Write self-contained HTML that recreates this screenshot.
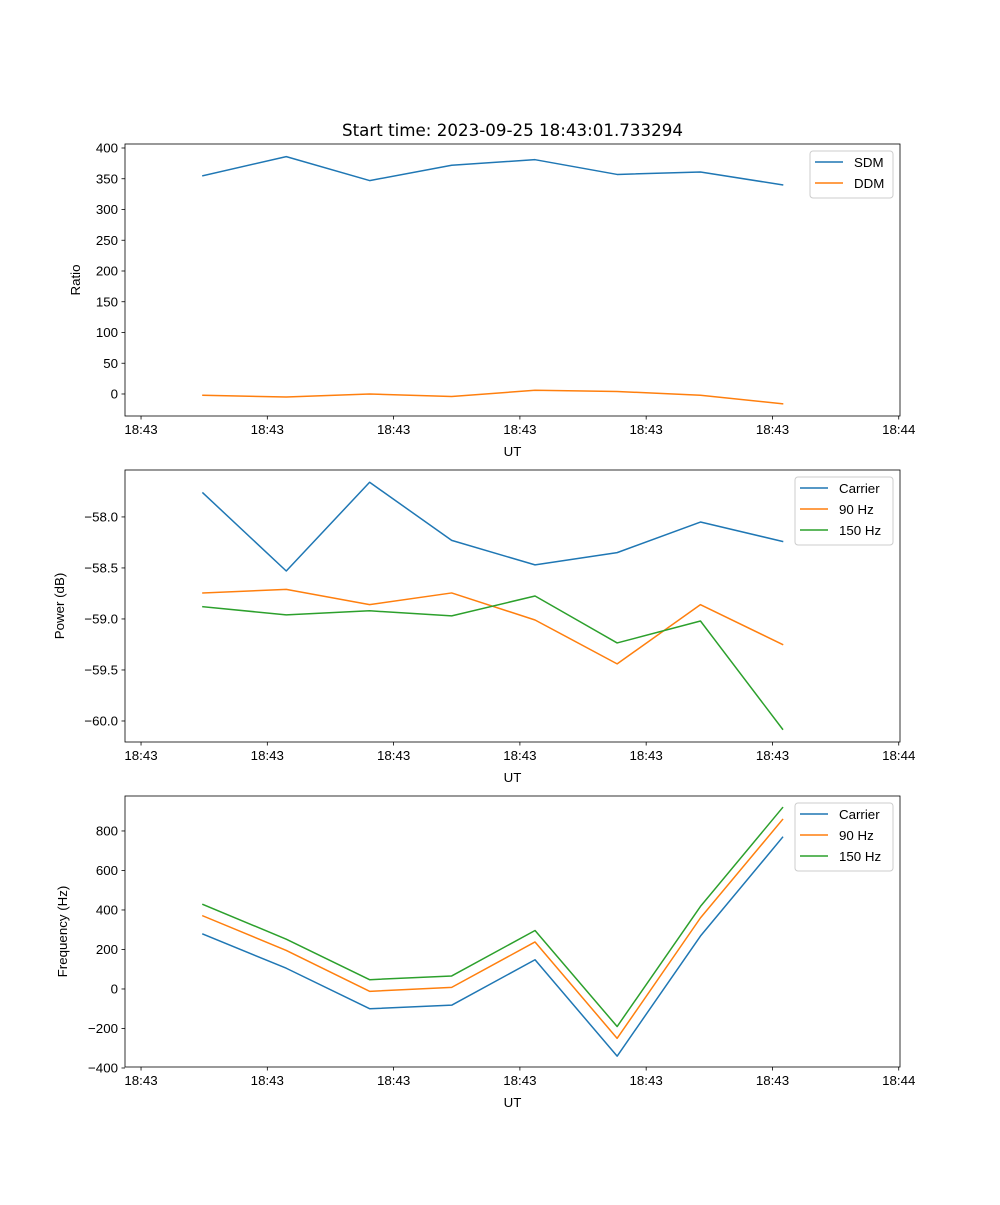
<!DOCTYPE html>
<html><head><meta charset="utf-8">
<style>
html,body{margin:0;padding:0;background:#fff;}
svg text{font-family:"Liberation Sans","DejaVu Sans",sans-serif;fill:#000;}
svg text.title{font-family:"DejaVu Sans","Liberation Sans",sans-serif;}
</style></head>
<body>
<svg id="fig" width="1000" height="1200" viewBox="0 0 1000 1200" xmlns="http://www.w3.org/2000/svg"></svg>
<script>
// shared x data (seconds after 18:43:00)
const times = [4.9, 11.5, 18.1, 24.6, 31.2, 37.7, 44.3, 50.8];
const xTickValues = [0, 10, 20, 30, 40, 50, 60];
const xTickLabels = ["18:43","18:43","18:43","18:43","18:43","18:43","18:44"];
// panel 1
const sdm = [355, 386, 347, 372, 381, 357, 361, 340];
const ddm = [-2, -5, 0, -4, 6, 4, -2, -16];
const ratioTicks = [0, 50, 100, 150, 200, 250, 300, 350, 400];
// panel 2
const powCarrier = [-57.765, -58.53, -57.66, -58.23, -58.47, -58.35, -58.05, -58.24];
const pow90 = [-58.745, -58.71, -58.86, -58.745, -59.01, -59.44, -58.86, -59.25];
const pow150 = [-58.88, -58.96, -58.92, -58.97, -58.775, -59.235, -59.02, -60.08];
const powTicks = [-60.0, -59.5, -59.0, -58.5, -58.0];
// panel 3
const freqCarrier = [278, 105, -100, -82, 148, -340, 268, 768];
const freq90 = [370, 195, -12, 8, 238, -250, 360, 858];
const freq150 = [428, 252, 47, 66, 296, -190, 418, 918];
const freqTicks = [-400, -200, 0, 200, 400, 600, 800];

const NS = "http://www.w3.org/2000/svg";
const svg = document.getElementById('fig');
function mk(tag, attrs, parent, name){
  const e = document.createElementNS(NS, tag);
  for (const k in attrs) e.setAttribute(k, attrs[k]);
  
  
  (parent||svg).appendChild(e);
  return e;
}
const L = 125, R = 900;
const xMin = -1.27, xMax = 60.1;
const xs = v => L + (v - xMin) / (xMax - xMin) * (R - L);

const t = mk('text', {x:512.5, y:136, 'text-anchor':'middle', 'font-size':16.7, class:'title'}, svg, 'chart-title');
t.textContent = 'Start time: 2023-09-25 18:43:01.733294';

function panel(cfg){
  const g = mk('g', {}, svg, cfg.name);
  const ys = v => cfg.bot - (v - cfg.yMin) / (cfg.yMax - cfg.yMin) * (cfg.bot - cfg.top);
  cfg.series.forEach(s => {
    const d = times.map((tv,i)=>(i?'L':'M')+xs(tv).toFixed(2)+','+ys(s.vals[i]).toFixed(2)).join(' ');
    mk('path', {d:d, fill:'none', stroke:s.color, 'stroke-width':1.5, 'stroke-linejoin':'round', 'stroke-linecap':'square'}, g, s.name+'-line');
  });
  mk('rect', {x:L, y:cfg.top, width:R-L, height:cfg.bot-cfg.top, fill:'none', stroke:'#000', 'stroke-width':0.8}, g, 'axes-frame');
  xTickValues.forEach((v,i)=>{
    const x = xs(v);
    mk('line', {x1:x, x2:x, y1:cfg.bot, y2:cfg.bot+3.5, stroke:'#000', 'stroke-width':0.8}, g, 'x-tick');
    const tx = mk('text', {x:x, y:cfg.bot+18, 'text-anchor':'middle', 'font-size':13.3}, g, 'x-tick-label');
    tx.textContent = xTickLabels[i];
  });
  const xl = mk('text', {x:512.5, y:cfg.bot+40, 'text-anchor':'middle', 'font-size':13.3}, g, 'x-axis-title');
  xl.textContent = 'UT';
  cfg.ticks.forEach(v=>{
    const y = ys(v);
    mk('line', {x1:L-3.5, x2:L, y1:y, y2:y, stroke:'#000', 'stroke-width':0.8}, g, 'y-tick');
    const ty = mk('text', {x:L-7, y:y+4.7, 'text-anchor':'end', 'font-size':13.3}, g, 'y-tick-label');
    ty.textContent = cfg.fmt(v);
  });
  const yl = mk('text', {x:0, y:0, 'text-anchor':'middle', 'font-size':13.3, transform:`translate(${cfg.ylx},${(cfg.top+cfg.bot)/2}) rotate(-90)`}, g, 'y-axis-title');
  yl.textContent = cfg.ylabel;
  const lg = mk('g', {}, g, 'legend');
  const n = cfg.series.length;
  mk('rect', {x:cfg.lx, y:cfg.top+7, width:R-7-cfg.lx, height:n*21+5, rx:3, fill:'#fff', 'fill-opacity':0.8, stroke:'#ccc', 'stroke-width':1}, lg, 'legend-box');
  cfg.series.forEach((s,i)=>{
    const yy = cfg.top+18+i*21;
    mk('line', {x1:cfg.lx+5, x2:cfg.lx+33, y1:yy, y2:yy, stroke:s.color, 'stroke-width':1.5}, lg, 'legend-swatch');
    const lt = mk('text', {x:cfg.lx+44, y:yy+5, 'font-size':13.3}, lg, 'legend-entry');
    lt.textContent = s.label;
  });
}
const C1='#1f77b4', C2='#ff7f0e', C3='#2ca02c';
panel({name:'ratio-panel', top:144, bot:416, yMin:-35.8, yMax:406.5, ticks:ratioTicks, fmt:v=>String(v), ylabel:'Ratio', ylx:80, lx:810,
  series:[{name:'sdm',label:'SDM',vals:sdm,color:C1},{name:'ddm',label:'DDM',vals:ddm,color:C2}]});
panel({name:'power-panel', top:470, bot:742, yMin:-60.206, yMax:-57.54, ticks:powTicks, fmt:v=>v.toFixed(1).replace('-','\u2212'), ylabel:'Power (dB)', ylx:64, lx:795,
  series:[{name:'power-carrier',label:'Carrier',vals:powCarrier,color:C1},{name:'power-90hz',label:'90 Hz',vals:pow90,color:C2},{name:'power-150hz',label:'150 Hz',vals:pow150,color:C3}]});
panel({name:'frequency-panel', top:796, bot:1067, yMin:-395, yMax:977, ticks:freqTicks, fmt:v=>String(v).replace('-','\u2212'), ylabel:'Frequency (Hz)', ylx:67, lx:795,
  series:[{name:'freq-carrier',label:'Carrier',vals:freqCarrier,color:C1},{name:'freq-90hz',label:'90 Hz',vals:freq90,color:C2},{name:'freq-150hz',label:'150 Hz',vals:freq150,color:C3}]});
</script>
</body></html>
